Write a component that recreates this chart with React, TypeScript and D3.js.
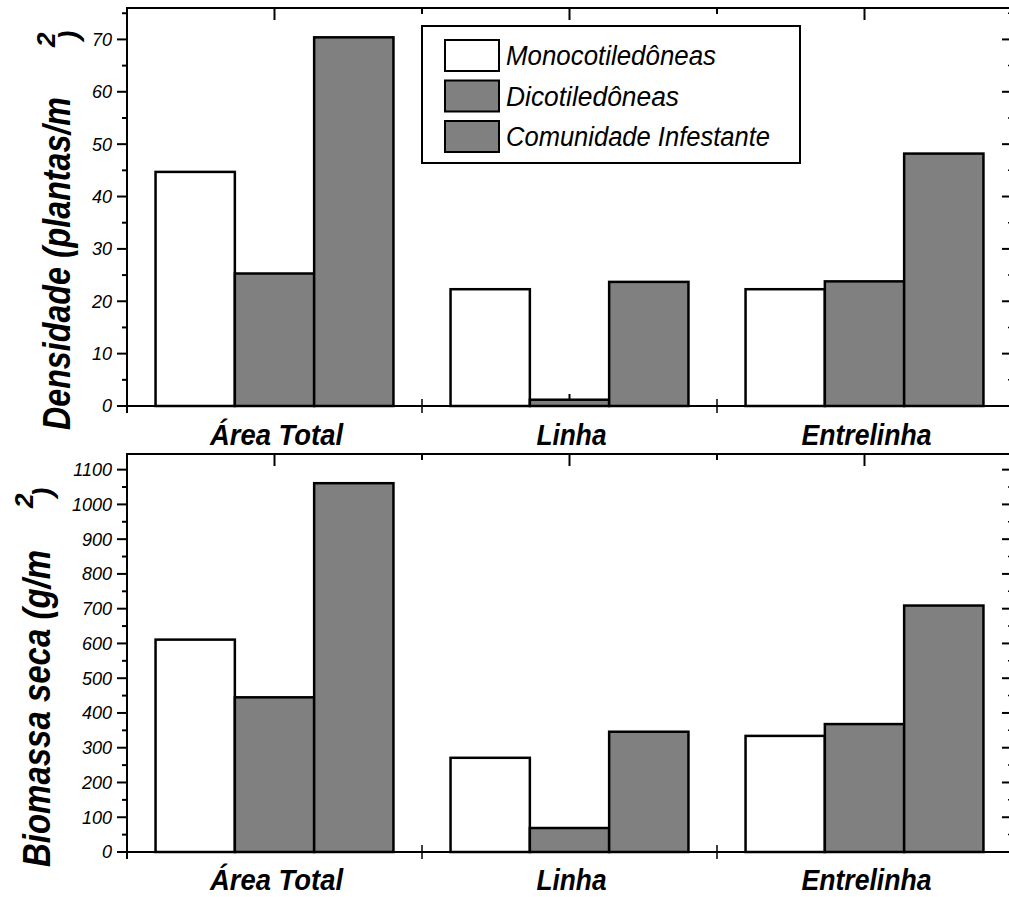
import React from "react";
import * as d3 from "d3";

const categories = ["Área Total", "Linha", "Entrelinha"];
const categoryLen = [133, 70, 130];
const seriesNames = ["Monocotiledôneas", "Dicotiledôneas", "Comunidade Infestante"];
const seriesLen = [210, 173, 264];
const seriesFill = ["#ffffff", "#808080", "#808080"];

// densidade (plantas/m2)
const densMono = [44.7, 22.3, 22.3];
const densDico = [25.3, 1.2, 23.8];
const densCom = [70.4, 23.7, 48.2];
const densTicks = [0, 10, 20, 30, 40, 50, 60, 70];

// biomassa seca (g/m2)
const bioMono = [611, 271, 334];
const bioDico = [445, 69, 368];
const bioCom = [1061, 346, 709];
const bioTicks = [0, 100, 200, 300, 400, 500, 600, 700, 800, 900, 1000, 1100];

const FONT = "'Liberation Sans', Arial, sans-serif";
const X0 = 127;
const X1 = 1012;

type PanelProps = {
  top: number;
  bottom: number;
  yMax: number;
  ticks: number[];
  minorStep: number;
  values: number[][];
  labelBaseline: number;
  title: string;
  titleX: number;
  titleStart: number;
  titleLen: number;
  supX: number;
  supY: number;
  parX: number;
  parY: number;
  legend?: boolean;
};

function Panel(p: PanelProps) {
  const x = d3.scaleBand().domain(categories).range([X0, X1]).paddingInner(0).paddingOuter(0);
  const inner = d3
    .scaleBand()
    .domain(seriesNames)
    .range([0, x.bandwidth()])
    .paddingInner(0)
    .paddingOuter(0.36);
  const y = d3.scaleLinear().domain([0, p.yMax]).range([p.bottom, p.top]);
  const minor = d3.range(p.minorStep, p.yMax, p.minorStep * 2);
  const bounds = [X0 + x.bandwidth(), X0 + 2 * x.bandwidth()];

  return (
    <g fontFamily={FONT}>
      {/* frame */}
      <line x1={X0} x2={X1} y1={p.top} y2={p.top} stroke="#000" strokeWidth={2} />
      <line x1={X0} x2={X1} y1={p.bottom} y2={p.bottom} stroke="#000" strokeWidth={2} />
      <line x1={X0} x2={X0} y1={p.top - 1} y2={p.bottom + 7} stroke="#000" strokeWidth={2} />
      <line x1={X1} x2={X1} y1={p.top} y2={p.bottom} stroke="#000" strokeWidth={2} />

      {/* y ticks */}
      {p.ticks.map((t) => (
        <g key={"t" + t}>
          <line x1={X0 - 10} x2={X0} y1={y(t)} y2={y(t)} stroke="#000" strokeWidth={2} />
          <line x1={X1 - 10} x2={X1} y1={y(t)} y2={y(t)} stroke="#000" strokeWidth={2} />
          <text
            x={112}
            y={y(t)}
            dy="0.36em"
            textAnchor="end"
            fontSize={18}
            fontStyle="italic"
          >
            {t}
          </text>
        </g>
      ))}
      {minor.map((t) => (
        <g key={"m" + t}>
          <line x1={X0 - 5} x2={X0} y1={y(t)} y2={y(t)} stroke="#000" strokeWidth={2} />
          <line x1={X1 - 4} x2={X1} y1={y(t)} y2={y(t)} stroke="#000" strokeWidth={1.5} />
        </g>
      ))}

      {/* x ticks */}
      {categories.map((c) => {
        const cx = (x(c) as number) + x.bandwidth() / 2;
        return (
          <g key={"x" + c}>
            <line x1={cx} x2={cx} y1={p.top} y2={p.top + 12} stroke="#000" strokeWidth={2} />
            <line x1={cx} x2={cx} y1={p.bottom} y2={p.bottom - 12} stroke="#000" strokeWidth={2} />
          </g>
        );
      })}
      {bounds.map((b) => (
        <g key={"b" + b}>
          <line x1={b} x2={b} y1={p.top} y2={p.top + 6} stroke="#000" strokeWidth={2} />
          <line x1={b} x2={b} y1={p.bottom - 7} y2={p.bottom + 7} stroke="#000" strokeWidth={1.5} />
        </g>
      ))}

      {/* bars */}
      {categories.map((c, ci) =>
        seriesNames.map((s, si) => (
          <rect
            key={c + s}
            x={(x(c) as number) + (inner(s) as number)}
            y={y(p.values[si][ci])}
            width={inner.bandwidth()}
            height={p.bottom - y(p.values[si][ci])}
            fill={seriesFill[si]}
            stroke="#000"
            strokeWidth={2.5}
          />
        ))
      )}

      {/* category labels */}
      {categories.map((c, i) => (
        <text
          key={"l" + c}
          x={(x(c) as number) + x.bandwidth() / 2 + 2}
          y={p.labelBaseline}
          textAnchor="middle"
          fontSize={30}
          fontWeight="bold"
          fontStyle="italic"
          textLength={categoryLen[i]}
          lengthAdjust="spacingAndGlyphs"
        >
          {c}
        </text>
      ))}

      {/* y title */}
      <text
        transform={`translate(${p.titleX},${p.titleStart}) rotate(-90)`}
        fontSize={38}
        fontWeight="bold"
        fontStyle="italic"
        textLength={p.titleLen}
        lengthAdjust="spacingAndGlyphs"
      >
        {p.title}
      </text>
      <text
        transform={`translate(${p.supX},${p.supY}) rotate(-90)`}
        fontSize={26}
        fontWeight="bold"
        fontStyle="italic"
      >
        2
      </text>
      <text
        transform={`translate(${p.parX},${p.parY}) rotate(-90)`}
        fontSize={28}
        fontWeight="bold"
        fontStyle="italic"
      >
        )
      </text>

      {p.legend && (
        <g>
          <rect x={422} y={26} width={378} height={137} fill="#fff" stroke="#000" strokeWidth={2} />
          {seriesNames.map((s, i) => {
            const sy = 40 + i * 40.5;
            return (
              <g key={"lg" + s}>
                <rect x={445} y={sy} width={54} height={31} fill={seriesFill[i]} stroke="#000" strokeWidth={2} />
                <text
                  x={506}
                  y={sy + 25}
                  fontSize={27}
                  fontStyle="italic"
                  textLength={seriesLen[i]}
                  lengthAdjust="spacingAndGlyphs"
                >
                  {s}
                </text>
              </g>
            );
          })}
        </g>
      )}
    </g>
  );
}

export default function App() {
  return (
    <svg
      width={1009}
      height={897}
      style={{ position: "absolute", left: 0, top: 0, background: "#fff" }}
    >
      <rect width={1009} height={897} fill="#fff" />
      <Panel
        top={8}
        bottom={406}
        yMax={76}
        ticks={densTicks}
        minorStep={5}
        values={[densMono, densDico, densCom]}
        labelBaseline={445}
        title="Densidade (plantas/m"
        titleX={70}
        titleStart={430}
        titleLen={333}
        supX={55}
        supY={47}
        parX={78}
        parY={40}
        legend
      />
      <Panel
        top={454}
        bottom={852}
        yMax={1145}
        ticks={bioTicks}
        minorStep={50}
        values={[bioMono, bioDico, bioCom]}
        labelBaseline={890}
        title="Biomassa seca (g/m"
        titleX={50}
        titleStart={867}
        titleLen={317}
        supX={33}
        supY={508}
        parX={52}
        parY={497}
      />
    </svg>
  );
}
